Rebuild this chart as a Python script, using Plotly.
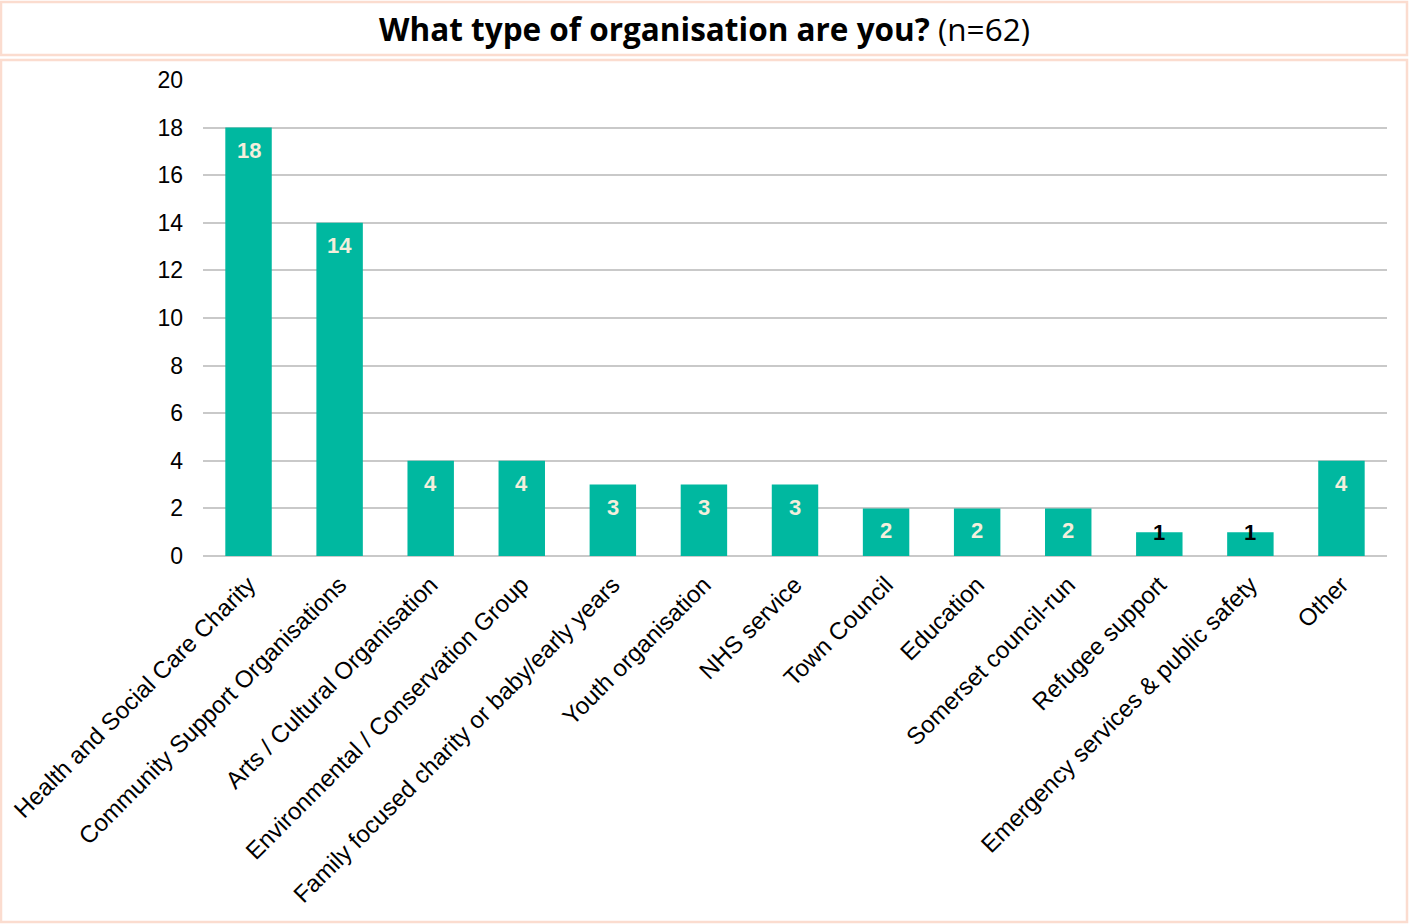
import plotly.graph_objects as go

categories = [
    "Health and Social Care Charity",
    "Community Support Organisations",
    "Arts / Cultural Organisation",
    "Environmental / Conservation Group",
    "Family focused charity or baby/early years",
    "Youth organisation",
    "NHS service",
    "Town Council",
    "Education",
    "Somerset council-run",
    "Refugee support",
    "Emergency services & public safety",
    "Other",
]
counts = [18, 14, 4, 4, 3, 3, 3, 2, 2, 2, 1, 1, 4]
y_ticks = [0, 2, 4, 6, 8, 10, 12, 14, 16, 18, 20]

W, H = 1409, 924
L, R, T, B = 203, 22, 80, 368
pw, ph = W - L - R, H - T - B

BAR = "#00b8a0"
BORDER = "#fbdccf"


def px_x(px):
    return (px - L) / pw


def px_y(py):
    return (H - B - py) / ph


fig = go.Figure(
    go.Bar(
        x=categories,
        y=counts,
        marker=dict(color=BAR, line=dict(width=0)),
        hoverinfo="x+y",
    )
)

# value labels inside the top of each bar (black, straddling the top for the small ones)
annotations = []
for cat, v in zip(categories, counts):
    small = v <= 1
    annotations.append(
        dict(
            x=cat, y=v, xref="x", yref="y",
            text=f"<b>{v}</b>",
            showarrow=False,
            yanchor="middle" if small else "top",
            yshift=0 if small else -8,
            font=dict(family="Liberation Sans, Arial", size=22,
                      color="#000000" if small else "#f4eedc"),
        )
    )

# title
annotations.append(
    dict(
        x=px_x(704), y=px_y(29), xref="paper", yref="paper",
        text="<b>What type of organisation are you?</b> (n=62)",
        showarrow=False, xanchor="center", yanchor="middle",
        font=dict(family="Open Sans", size=31.5, color="#000000"),
    )
)

shapes = [
    # title box
    dict(type="rect", xref="paper", yref="paper",
         x0=px_x(1), x1=px_x(1407), y0=px_y(55), y1=px_y(2),
         line=dict(color=BORDER, width=2.5), layer="below"),
    # chart box
    dict(type="rect", xref="paper", yref="paper",
         x0=px_x(1), x1=px_x(1407), y0=px_y(922), y1=px_y(60),
         line=dict(color=BORDER, width=2.5), layer="below"),
]

fig.update_layout(
    width=W, height=H,
    margin=dict(l=L, r=R, t=T, b=B, autoexpand=False),
    paper_bgcolor="white", plot_bgcolor="white",
    bargap=0.49,
    showlegend=False,
    annotations=annotations,
    shapes=shapes,
    font=dict(family="Liberation Sans, Arial", color="#000000"),
)
fig.update_xaxes(
    tickangle=-45,
    tickfont=dict(family="Liberation Sans, Arial", size=24, color="#000000"),
    showline=False, showgrid=False, ticks="",
    ticklabelstandoff=9,
)
fig.update_yaxes(
    range=[0, 20],
    tickvals=y_ticks,
    tickfont=dict(family="Liberation Sans, Arial", size=23, color="#000000"),
    showgrid=True, gridcolor="#c9c9c9", gridwidth=1.5,
    zeroline=True, zerolinecolor="#c9c9c9", zerolinewidth=1.5,
    showline=False, ticks="",
    ticklabelstandoff=19,
)

fig.write_html("out.html")
